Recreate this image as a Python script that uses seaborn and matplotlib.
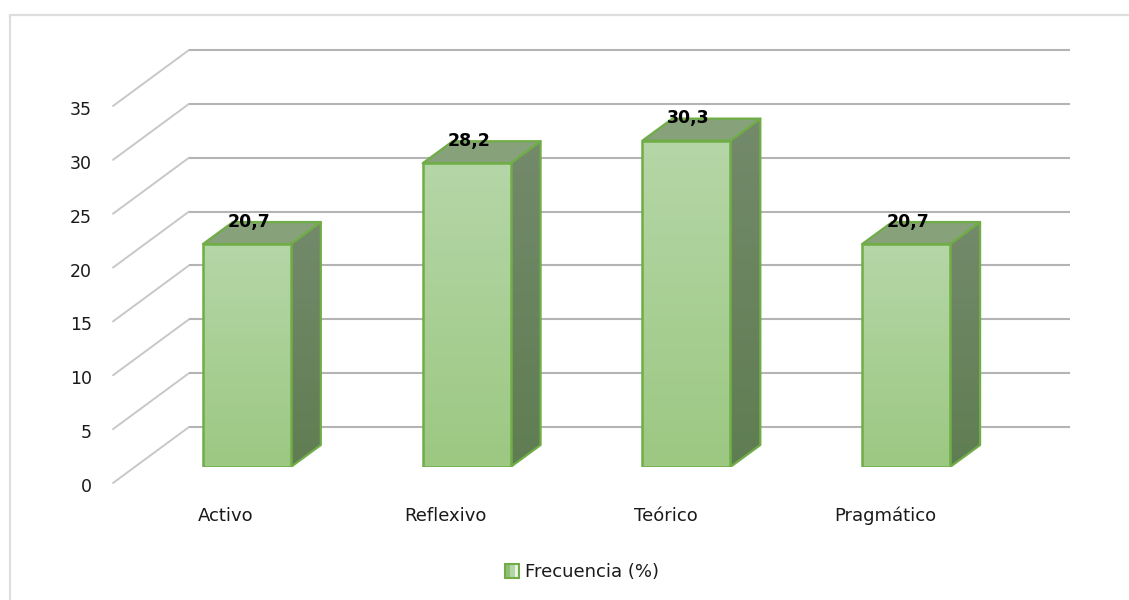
import numpy as np
import matplotlib
matplotlib.use("Agg")
import matplotlib.pyplot as plt
import seaborn as sns
from matplotlib.patches import Polygon, Rectangle, Patch
from matplotlib.legend_handler import HandlerBase
from matplotlib.colors import LinearSegmentedColormap
from matplotlib.lines import Line2D
from matplotlib.transforms import ScaledTranslation

categories = ["Activo", "Reflexivo", "Teórico", "Pragmático"]
frecuencia = [20.7, 28.2, 30.3, 20.7]
y_ticks = [0, 5, 10, 15, 20, 25, 30, 35]
series_name = "Frecuencia (%)"

W, H = 1129, 600
sns.set_style("white")
plt.rcParams["font.family"] = ["DejaVu Sans"]
TEXT = "#1a1a1a"
GRID = "#b4b4b4"
DIAG = "#c8c8c8"
EDGE = "#70ad47"


def rect(left, right, top, bottom):
    return [left / W, 1 - bottom / H, (right - left) / W, (bottom - top) / H]


fig = plt.figure(figsize=(W / 100, H / 100), dpi=100, facecolor="white")

# chart frame
for xs, ys in [((10, 1129), (14.5, 14.5)), ((10, 10), (14.5, 600))]:
    fig.add_artist(Line2D([x / W for x in xs], [1 - y / H for y in ys],
                          color="#dedede", lw=1.6))

# walls: front edge at x=113, back wall at x=189
wall = fig.add_axes(rect(113, 1070, 106, 483), facecolor="none", zorder=1)
wall.set_xlim(113, 1070)
wall.set_ylim(0, 35)
rise = 56 / (377 / 35)
for v in y_ticks:
    wall.plot([113, 189], [v, v + rise], color=DIAG, lw=1.4, clip_on=False,
              solid_capstyle="round")
    wall.plot([189, 1070], [v + rise, v + rise], color=GRID, lw=1.5, clip_on=False,
              solid_capstyle="butt")
wall.set_xticks([])
wall.set_yticks(y_ticks)
wall.tick_params(axis="y", length=0, pad=15, labelsize=12.5, labelcolor=TEXT)
sns.despine(ax=wall, left=True, bottom=True)
for tl in wall.get_yticklabels():
    tl.set_transform(tl.get_transform() + ScaledTranslation(0, -0.02, fig.dpi_scale_trans))

# bars: front plane
ax = fig.add_axes(rect(137, 1016, 90, 467), facecolor="none", zorder=2)
sns.barplot(x=categories, y=frecuencia, ax=ax, width=0.4, color="#a8cf92",
            edgecolor=EDGE, linewidth=0, saturation=1)
ax.set_xlim(-0.5, 3.5)
ax.set_ylim(0, 35)
dx = 30 / (879 / 4)
dy = 22 / (377 / 35)

front_cm = LinearSegmentedColormap.from_list("f", ["#9cc882", "#b5d6a7"])
side_cm = LinearSegmentedColormap.from_list("s", ["#5f7d52", "#748a6b"])
grad = np.linspace(0, 1, 256).reshape(-1, 1)
bars = list(ax.patches)
for bar in bars:
    x0, w, h = bar.get_x(), bar.get_width(), bar.get_height()
    x1 = x0 + w
    bar.set_facecolor("none")
    side = Polygon([(x1, 0), (x1 + dx, dy), (x1 + dx, h + dy), (x1, h)], closed=True,
                   facecolor="none", edgecolor=EDGE, lw=1.6, zorder=4, joinstyle="round")
    top = Polygon([(x0, h), (x0 + dx, h + dy), (x1 + dx, h + dy), (x1, h)], closed=True,
                  facecolor="#87a17b", edgecolor=EDGE, lw=1.6, zorder=4, joinstyle="round")
    ax.add_patch(side)
    ax.add_patch(top)
    im_s = ax.imshow(grad, cmap=side_cm, origin="lower", aspect="auto",
                     extent=(x1, x1 + dx, 0, h + dy), zorder=3.5)
    im_s.set_clip_path(side)
    im_f = ax.imshow(grad, cmap=front_cm, origin="lower", aspect="auto",
                     extent=(x0, x1, 0, h), zorder=4.2)
    im_f.set_clip_path(Rectangle((x0, 0), w, h, transform=ax.transData))
    ax.add_patch(Rectangle((x0, 0), w, h, facecolor="none", edgecolor=EDGE, lw=1.8,
                           zorder=4.4, joinstyle="round"))
ax.set_xlim(-0.5, 3.5)
ax.set_ylim(0, 35)

labels = ax.bar_label(ax.containers[0], labels=[f"{v:.1f}".replace(".", ",") for v in frecuencia],
                      padding=10, fontsize=12.5, fontweight="bold", color="black", zorder=6)
for t in labels:
    t.set_zorder(6)
    t.xyann = (1.5, 9.5)

ax.set_yticks([])
ax.set_ylabel("")
ax.tick_params(axis="x", length=0, pad=35, labelsize=13, labelcolor=TEXT)
sns.despine(ax=ax, left=True, bottom=True)
for tl in ax.get_xticklabels():
    tl.set_verticalalignment("center")
    tl.set_transform(tl.get_transform() + ScaledTranslation(-0.21, 0, fig.dpi_scale_trans))


class GradientSwatch(HandlerBase):
    def create_artists(self, legend, orig, xd, yd, width, height, fontsize, trans):
        s = height
        x = xd + (width - s) / 2
        y = -yd
        parts = [(0, "#8fbf75"), (s / 3, "#b4d5a6"), (2 * s / 3, "#eaf3e4")]
        arts = [Rectangle((x + a, y), s / 3, s, facecolor=c, edgecolor="none", transform=trans)
                for a, c in parts]
        arts.append(Rectangle((x, y), s, s, facecolor="none", edgecolor=EDGE, lw=1.5, transform=trans))
        return arts


fig.legend(handles=[Patch(label=series_name)], handler_map={Patch: GradientSwatch()},
           loc="center", bbox_to_anchor=(582 / W, 1 - 572 / H), frameon=False,
           fontsize=13, labelcolor=TEXT, handlelength=0.83, handletextpad=0.3,
           handleheight=0.83, borderpad=0)

fig.savefig("out.png", dpi=100)
